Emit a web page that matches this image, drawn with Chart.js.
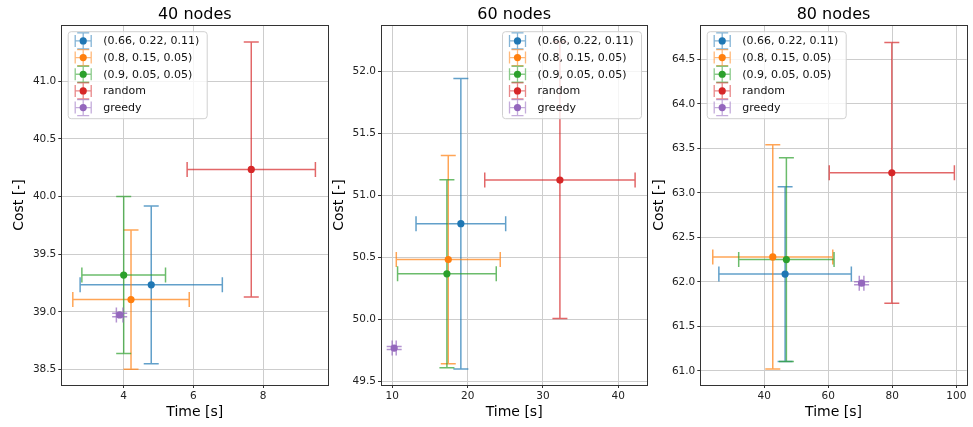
<!DOCTYPE html>
<html>
<head>
<meta charset="utf-8">
<script src="https://cdn.jsdelivr.net/npm/chart.js@4.4.0/dist/chart.umd.min.js"></script>
<style>
  html, body { margin: 0; padding: 0; background: #fff; }
  #wrap { position: relative; width: 973px; height: 427px; overflow: hidden; }
  #wrap canvas { position: absolute; top: 0; }
</style>
</head>
<body>
<div id="wrap">
  <canvas id="chart40" width="334" height="427" style="left:0px"></canvas>
  <canvas id="chart60" width="334" height="427" style="left:320px"></canvas>
  <canvas id="chart80" width="333" height="427" style="left:640px"></canvas>
</div>
<script>
// series shared by all three panels
var seriesLabels = ['(0.66, 0.22, 0.11)', '(0.8, 0.15, 0.05)', '(0.9, 0.05, 0.05)', 'random', 'greedy'];
var seriesColors = ['#1f77b4', '#ff7f0e', '#2ca02c', '#d62728', '#9467bd'];

// 40 nodes
var time40 = [4.79, 4.21, 4.00, 7.66, 3.885];
var timeErr40 = [2.04, 1.67, 1.20, 1.84, 0.095];
var cost40 = [39.235, 39.107, 39.32, 40.235, 38.974];
var costErr40 = [0.683, 0.604, 0.68, 1.105, 0.015];
var xTicks40 = [4, 6, 8];
var yTicks40 = [38.5, 39.0, 39.5, 40.0, 40.5, 41.0];

// 60 nodes
var time60 = [19.1, 17.43, 17.25, 32.25, 10.25];
var timeErr60 = [5.95, 6.9, 6.55, 9.98, 0.27];
var cost60 = [50.769, 50.48, 50.365, 51.121, 49.766];
var costErr60 = [1.172, 0.84, 0.758, 1.116, 0.012];
var xTicks60 = [10, 20, 30, 40];
var yTicks60 = [49.5, 50.0, 50.5, 51.0, 51.5, 52.0];

// 80 nodes
var time80 = [46.5, 42.65, 46.9, 79.85, 70.4];
var timeErr80 = [20.7, 18.75, 14.9, 19.55, 0.72];
var cost80 = [62.087, 62.28, 62.25, 63.225, 61.985];
var costErr80 = [0.982, 1.26, 1.146, 1.465, 0.017];
var xTicks80 = [40, 60, 80, 100];
var yTicks80 = [61.0, 61.5, 62.0, 62.5, 63.0, 63.5, 64.0, 64.5];

Chart.defaults.font.family = '"DejaVu Sans", sans-serif';
Chart.defaults.color = '#222';

var CAP = 7.5;

function withAlpha(hex, a) {
    var r = parseInt(hex.slice(1, 3), 16), g = parseInt(hex.slice(3, 5), 16), b = parseInt(hex.slice(5, 7), 16);
    return 'rgba(' + r + ',' + g + ',' + b + ',' + a + ')';
}

// horizontal + vertical error bars with caps, drawn under the markers
var errorBars = {
    id: 'errorBars',
    beforeDatasetsDraw: function (chart) {
        var ctx = chart.ctx, a = chart.chartArea;
        var xs = chart.scales.x, ys = chart.scales.y;
        ctx.save();
        ctx.beginPath();
        ctx.rect(a.left, a.top, a.right - a.left, a.bottom - a.top);
        ctx.clip();
        ctx.lineWidth = 1.5;
        chart.data.datasets.forEach(function (ds) {
            ctx.strokeStyle = withAlpha(ds.backgroundColor, 0.7);
            ds.data.forEach(function (pt) {
                var px = xs.getPixelForValue(pt.x), py = ys.getPixelForValue(pt.y);
                var x0 = xs.getPixelForValue(pt.x - pt.xErr), x1 = xs.getPixelForValue(pt.x + pt.xErr);
                var y0 = ys.getPixelForValue(pt.y - pt.yErr), y1 = ys.getPixelForValue(pt.y + pt.yErr);
                ctx.beginPath();
                ctx.moveTo(x0, py); ctx.lineTo(x1, py);
                ctx.moveTo(x0, py - CAP); ctx.lineTo(x0, py + CAP);
                ctx.moveTo(x1, py - CAP); ctx.lineTo(x1, py + CAP);
                ctx.stroke();
                ctx.beginPath();
                ctx.moveTo(px, y0); ctx.lineTo(px, y1);
                ctx.moveTo(px - CAP, y0); ctx.lineTo(px + CAP, y0);
                ctx.moveTo(px - CAP, y1); ctx.lineTo(px + CAP, y1);
                ctx.stroke();
            });
        });
        ctx.restore();
    },
    afterDatasetsDraw: function (chart) {
        // axes frame on all four sides
        var ctx = chart.ctx, a = chart.chartArea;
        ctx.save();
        ctx.strokeStyle = '#333';
        ctx.lineWidth = 1;
        ctx.strokeRect(Math.round(a.left) + 0.5, Math.round(a.top) + 0.5,
            Math.round(a.right) - Math.round(a.left), Math.round(a.bottom) - Math.round(a.top));
        ctx.restore();
    }
};

// legend box inside the axes, with error-bar handles
var errorLegend = {
    id: 'errorLegend',
    afterDraw: function (chart, args, opts) {
        var ctx = chart.ctx, a = chart.chartArea;
        var w = 139, h = 87;
        var left = opts.side === 'right' ? a.right - 6.3 - w : a.left + 6.4;
        var top = a.top + 6;
        ctx.save();
        ctx.beginPath();
        ctx.roundRect(left + 0.5, top + 0.5, w, h, 3);
        ctx.fillStyle = 'rgba(255,255,255,0.8)';
        ctx.fill();
        ctx.strokeStyle = '#d0d0d0';
        ctx.lineWidth = 1;
        ctx.stroke();
        ctx.font = '11px "DejaVu Sans", sans-serif';
        ctx.textBaseline = 'middle';
        chart.data.datasets.forEach(function (ds, i) {
            var cy = top + 9.7 + i * 16.67;
            var cx = left + 15.5;
            var s = 8;
            ctx.strokeStyle = withAlpha(ds.backgroundColor, 0.55);
            ctx.lineWidth = 1.3;
            ctx.beginPath();
            ctx.moveTo(cx - s, cy); ctx.lineTo(cx + s, cy);
            ctx.moveTo(cx, cy - s); ctx.lineTo(cx, cy + s);
            ctx.moveTo(cx - s, cy - s + 2); ctx.lineTo(cx - s, cy + s - 2);
            ctx.moveTo(cx + s, cy - s + 2); ctx.lineTo(cx + s, cy + s - 2);
            ctx.moveTo(cx - s + 2, cy - s); ctx.lineTo(cx + s - 2, cy - s);
            ctx.moveTo(cx - s + 2, cy + s); ctx.lineTo(cx + s - 2, cy + s);
            ctx.stroke();
            ctx.beginPath();
            ctx.arc(cx, cy, 3.6, 0, Math.PI * 2);
            ctx.fillStyle = ds.backgroundColor;
            ctx.fill();
            ctx.fillStyle = '#111';
            ctx.fillText(ds.label, left + 35.6, cy + 0.5);
        });
        ctx.restore();
    }
};

function makeChart(id, p) {
    var datasets = seriesLabels.map(function (label, i) {
        return {
            label: label,
            data: [{ x: p.time[i], y: p.cost[i], xErr: p.timeErr[i], yErr: p.costErr[i] }],
            backgroundColor: seriesColors[i],
            borderColor: seriesColors[i],
            borderWidth: 0,
            pointRadius: 3.6,
            pointHoverRadius: 3.6
        };
    });
    return new Chart(document.getElementById(id), {
        type: 'scatter',
        data: { datasets: datasets },
        options: {
            responsive: false,
            animation: false,
            events: [],
            layout: { padding: { left: 0, right: p.padRight, top: 0, bottom: 0 } },
            scales: {
                x: {
                    type: 'linear',
                    min: p.xMin,
                    max: p.xMax,
                    afterBuildTicks: function (scale) {
                        scale.ticks = p.xTicks.map(function (v) { return { value: v }; });
                    },
                    afterFit: function (scale) { scale.height = 42; },
                    ticks: {
                        font: { size: 10.5 },
                        padding: 2,
                        maxRotation: 0,
                        callback: function (v) { return String(v); }
                    },
                    grid: { color: '#cdcdcd', lineWidth: 1, tickLength: 3, tickColor: '#333' },
                    border: { display: false },
                    title: {
                        display: true,
                        text: 'Time [s]',
                        color: '#000',
                        font: { size: 14 },
                        padding: { top: 0, bottom: 6.6 }
                    }
                },
                y: {
                    type: 'linear',
                    min: p.yMin,
                    max: p.yMax,
                    afterBuildTicks: function (scale) {
                        scale.ticks = p.yTicks.map(function (v) { return { value: v }; });
                    },
                    afterFit: function (scale) { scale.width = p.yWidth; },
                    ticks: {
                        font: { size: 10.5 },
                        padding: 2,
                        callback: function (v) { return v.toFixed(1); }
                    },
                    grid: { color: '#cdcdcd', lineWidth: 1, tickLength: 3, tickColor: '#333' },
                    border: { display: false },
                    title: {
                        display: true,
                        text: 'Cost [-]',
                        color: '#000',
                        font: { size: 14 },
                        padding: { top: 10.8, bottom: 0 }
                    }
                }
            },
            plugins: {
                legend: { display: false },
                tooltip: { enabled: false },
                title: {
                    display: true,
                    text: p.title,
                    fullSize: false,
                    color: '#000',
                    font: { size: 16, weight: 'normal' },
                    padding: { top: 5, bottom: 1 }
                },
                errorLegend: { side: p.legendSide }
            }
        },
        plugins: [errorBars, errorLegend]
    });
}

makeChart('chart40', {
    title: '40 nodes', time: time40, timeErr: timeErr40, cost: cost40, costErr: costErr40,
    xTicks: xTicks40, yTicks: yTicks40,
    xMin: 2.21, xMax: 9.87, yMin: 38.367, yMax: 41.485,
    yWidth: 61.3, padRight: 5.7, legendSide: 'left'
});
makeChart('chart60', {
    title: '60 nodes', time: time60, timeErr: timeErr60, cost: cost60, costErr: costErr60,
    xTicks: xTicks60, yTicks: yTicks60,
    xMin: 8.5, xMax: 43.85, yMin: 49.468, yMax: 52.37,
    yWidth: 61, padRight: 6.7, legendSide: 'right'
});
makeChart('chart80', {
    title: '80 nodes', time: time80, timeErr: timeErr80, cost: cost80, costErr: costErr80,
    xTicks: xTicks80, yTicks: yTicks80,
    xMin: 20, xMax: 103.25, yMin: 60.84, yMax: 64.885,
    yWidth: 60.3, padRight: 6.3, legendSide: 'left'
});
</script>
</body>
</html>
